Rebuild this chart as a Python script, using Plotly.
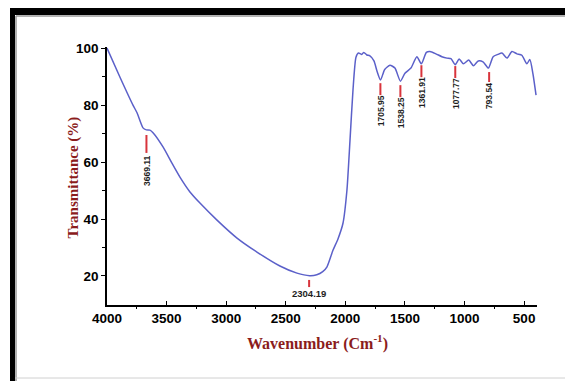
import plotly.graph_objects as go

# ---- data ----
wavenumber = [4000, 3891, 3782, 3748, 3698, 3670, 3640, 3614, 3530, 3455, 3388, 3304, 3220,
              3077, 2909, 2742, 2549, 2406, 2300, 2240, 2190, 2154, 2104, 2062, 2020, 1987,
              1961, 1936, 1911, 1890, 1865, 1845, 1820, 1794, 1760, 1735, 1705, 1670, 1626,
              1584, 1538, 1500, 1450, 1400, 1362, 1320, 1290, 1240, 1190, 1148, 1114, 1078,
              1045, 1010, 965, 925, 885, 845, 800, 760, 720, 686, 644, 602, 560, 519, 477,
              452, 426, 400]
transmittance = [100, 89.8, 80, 77.3, 72, 71.3, 71.2, 70.3, 65.3, 59.6, 54.7, 49.5, 45.6,
                 39.6, 33.3, 28.4, 23.5, 21, 20.1, 20.4, 21.5, 23.2, 29, 33, 38.5, 50,
                 67.7, 85.3, 96.8, 98.3, 97.8, 98.5, 97.6, 97.3, 95.5, 92, 88.8, 92.5, 94,
                 93, 88.4, 91.2, 93, 97, 94.5, 98.5, 98.8, 98, 97, 96.5, 96.3, 94.2,
                 96.2, 94.5, 95.8, 93.8, 95.5, 95.2, 93, 97, 97.8, 98.3, 96.5, 98.8, 98, 97.5, 94.5,
                 96, 91, 83.5]

peak_labels = ["3669.11", "2304.19", "1705.95", "1538.25", "1361.91", "1077.77", "793.54"]
peak_wn = [3669.11, 2304.19, 1705.95, 1538.25, 1361.91, 1077.77, 793.54]
# marker line top / bottom and label centre (in transmittance units)
peak_line_top = [69.5, 18.6, 87.7, 87.0, 94.0, 93.7, 91.6]
peak_line_bot = [63.2, 16.1, 83.5, 82.8, 89.8, 89.5, 88.1]
peak_text_y = [57.0, 14.0, 78.0, 77.3, 84.4, 84.0, 83.2]

x_ticks = [4000, 3500, 3000, 2500, 2000, 1500, 1000, 500]
y_ticks = [20, 40, 60, 80, 100]

# ---- figure ----
fig = go.Figure()
fig.add_trace(go.Scatter(
    x=wavenumber, y=transmittance, mode="lines",
    line=dict(color="#5b60c9", width=1.5, shape="spline", smoothing=0.6),
    hoverinfo="x+y", showlegend=False))

OFF = 8  # page body margin
PAGE_W, PAGE_H = 573, 381
W, H = PAGE_W - OFF, PAGE_H - OFF
PL, PR, PT, PB = 107, 537, 47, 305  # plot area in page pixels
L, R, T, B = PL - OFF, PAGE_W - PR, PT - OFF, PAGE_H - PB
pw, ph = PR - PL, PB - PT


def xp(px):
    return (px - PL) / pw


def yp(py):
    return (PB - py) / ph


shapes = []
annotations = []
label_font = dict(family="Liberation Sans Narrow, Arial Narrow, Arial", size=8.5,
                  color="#1e1e1e", weight="bold")
for lab, wn, yt, yb, ty in zip(peak_labels, peak_wn, peak_line_top, peak_line_bot, peak_text_y):
    shapes.append(dict(type="line", xref="x", yref="y", x0=wn, x1=wn, y0=yb, y1=yt,
                       line=dict(color="#d8343c", width=2)))
    horizontal = lab == "2304.19"
    annotations.append(dict(xref="x", yref="y", x=wn, y=ty, text=lab, showarrow=False,
                            textangle=0 if horizontal else -90,
                            font=dict(label_font, size=9.5) if horizontal else label_font))

# frame
shapes += [
    dict(type="rect", xref="paper", yref="paper", x0=xp(10), x1=xp(573), y0=yp(15), y1=yp(7),
         fillcolor="black", line=dict(width=0), layer="above"),
    dict(type="rect", xref="paper", yref="paper", x0=xp(10), x1=xp(15), y0=yp(381), y1=yp(7),
         fillcolor="black", line=dict(width=0), layer="above"),
    dict(type="line", xref="paper", yref="paper", x0=xp(16), x1=xp(573), y0=yp(16), y1=yp(16),
         line=dict(color="#999999", width=1.5)),
    dict(type="line", xref="paper", yref="paper", x0=xp(16), x1=xp(16), y0=yp(381), y1=yp(16),
         line=dict(color="#999999", width=1.5)),
    dict(type="line", xref="paper", yref="paper", x0=xp(15), x1=xp(573), y0=yp(378), y1=yp(378),
         line=dict(color="#d0d0d0", width=1)),
]

title_font = dict(family="Liberation Serif", size=16, color="#8b1c1c", weight="bold")
annotations += [
    dict(xref="paper", yref="paper", x=xp(62), y=yp(178), text="Transmittance (%)",
         textangle=-90, showarrow=False, font=dict(title_font, size=15)),
    dict(xref="paper", yref="paper", x=xp(317), y=yp(330), yanchor="top",
         text="Wavenumber (Cm<sup>-1</sup>)", showarrow=False, font=title_font),
]

tick_font = dict(family="Arial", size=13.5, color="black", weight="bold")
fig.update_layout(
    width=W, height=H, autosize=False,
    margin=dict(l=L, r=R, t=T, b=B, pad=0),
    paper_bgcolor="white", plot_bgcolor="white",
    xaxis=dict(range=[4000, 392], tickvals=x_ticks, ticks="inside", ticklen=4,
               tickcolor="black", tickwidth=1.2,
               minor=dict(tickvals=[3750, 3250, 2750, 2250, 1750, 1250, 750],
                          ticks="outside", ticklen=2, tickcolor="black"),
               showline=True, linecolor="black", linewidth=1.5, showgrid=False,
               zeroline=False, tickfont=tick_font),
    yaxis=dict(range=[9.8, 100.4], tickvals=y_ticks, ticks="outside", ticklen=4,
               tickcolor="black", tickwidth=1.2,
               minor=dict(tickvals=[30, 50, 70, 90], ticks="outside", ticklen=3,
                          tickcolor="black"),
               showline=True, linecolor="black", linewidth=1.5, showgrid=False,
               zeroline=False, tickfont=tick_font),
    shapes=shapes, annotations=annotations,
)

fig.write_html("out.html")
